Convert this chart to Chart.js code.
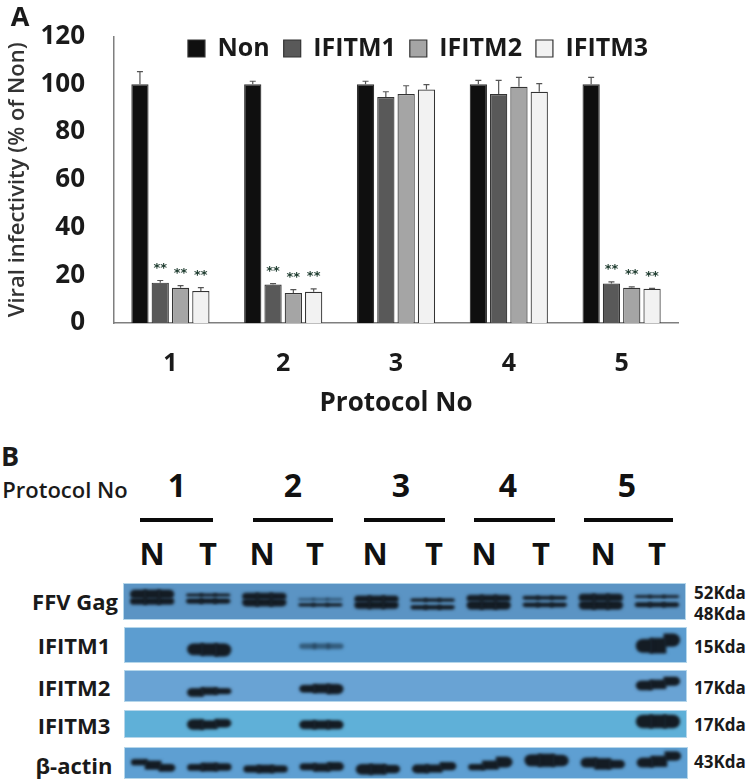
<!DOCTYPE html>
<html>
<head>
<meta charset="utf-8">
<script src="https://cdn.jsdelivr.net/npm/chart.js@4"></script>
<style>
html, body { margin: 0; padding: 0; background: #fff; }
body { position: relative; width: 750px; height: 781px; overflow: hidden; font-family: "Open Sans", sans-serif; color: #1a1a1a; }
canvas { position: absolute; display: block; }
.txt { position: absolute; white-space: nowrap; font-weight: 700; line-height: 1; transform: translate(-50%, -50%); }
.rule { position: absolute; top: 518px; height: 4px; background: #0a0a0a; }
.row { font-size: 22px; }
.kda { font-size: 17px; }
.lane { font-size: 31px; top: 553px; color: #111; }
.num { font-size: 32px; top: 485px; color: #111; }
.strip { border: 1px solid #b5d6ea; box-sizing: border-box; }
</style>
</head>
<body>
<canvas id="infectivity" width="750" height="425" style="left:0;top:0"></canvas>

<div class="txt" style="left:20px;top:15px;font-size:27px">A</div>
<div class="txt" style="left:10px;top:455px;font-size:27px">B</div>
<div class="txt" style="left:65px;top:489px;font-size:22px;font-weight:600">Protocol No</div>

<div class="txt num" style="left:177px">1</div>
<div class="txt num" style="left:293px">2</div>
<div class="txt num" style="left:401px">3</div>
<div class="txt num" style="left:508px">4</div>
<div class="txt num" style="left:627px">5</div>

<div class="rule" style="left:140px;width:73px"></div>
<div class="rule" style="left:253px;width:80px"></div>
<div class="rule" style="left:364px;width:81px"></div>
<div class="rule" style="left:474px;width:81px"></div>
<div class="rule" style="left:584px;width:89px"></div>

<div class="txt lane" style="left:152px">N</div>
<div class="txt lane" style="left:208px">T</div>
<div class="txt lane" style="left:262px">N</div>
<div class="txt lane" style="left:315px">T</div>
<div class="txt lane" style="left:375px">N</div>
<div class="txt lane" style="left:434px">T</div>
<div class="txt lane" style="left:484px">N</div>
<div class="txt lane" style="left:541px">T</div>
<div class="txt lane" style="left:603px">N</div>
<div class="txt lane" style="left:657px">T</div>

<canvas id="blotGag" class="strip" width="563" height="37" style="left:123px;top:583px"></canvas>
<canvas id="blotM1" class="strip" width="563" height="36" style="left:124px;top:627px"></canvas>
<canvas id="blotM2" class="strip" width="563" height="32" style="left:124px;top:670px"></canvas>
<canvas id="blotM3" class="strip" width="563" height="28" style="left:124px;top:710px"></canvas>
<canvas id="blotActin" class="strip" width="564" height="32" style="left:124px;top:747px"></canvas>

<div class="txt row" style="left:75px;top:601px">FFV Gag</div>
<div class="txt row" style="left:74px;top:645px">IFITM1</div>
<div class="txt row" style="left:74px;top:687px">IFITM2</div>
<div class="txt row" style="left:74px;top:725px">IFITM3</div>
<div class="txt row" style="left:74px;top:765px">β-actin</div>

<div class="txt kda" style="left:720px;top:592px">52Kda</div>
<div class="txt kda" style="left:720px;top:613px">48Kda</div>
<div class="txt kda" style="left:720px;top:646px">15Kda</div>
<div class="txt kda" style="left:720px;top:687px">17Kda</div>
<div class="txt kda" style="left:720px;top:724px">17Kda</div>
<div class="txt kda" style="left:720px;top:761px">43Kda</div>

<script>
// ---------------- DATA: panel A ----------------
const protocols = ["1", "2", "3", "4", "5"];
const yTicks = [0, 20, 40, 60, 80, 100, 120];

const nonValues = [100, 100, 100, 100, 100];
const ifitm1Values = [16.9, 16.1, 94.7, 95.9, 16.5];
const ifitm2Values = [14.8, 12.6, 95.9, 99.0, 14.8];
const ifitm3Values = [13.4, 13.1, 97.8, 96.9, 14.3];

// top of each error bar
const nonUpper = [105.3, 101.3, 101.3, 101.7, 102.9];
const ifitm1Upper = [17.8, 16.5, 96.9, 101.7, 17.2];
const ifitm2Upper = [15.7, 14.0, 99.4, 102.9, 15.1];
const ifitm3Upper = [14.8, 14.3, 99.9, 100.3, 14.5];

const noMarks = ["", "", "", "", ""];
const signifMarks = ["**", "**", "", "", "**"];

// ---------------- DATA: panel B ----------------
const lanes = ["N1", "T1", "N2", "T2", "N3", "T3", "N4", "T4", "N5", "T5"];

// band extent per lane as a fraction of the strip height, read at the left,
// middle and right of the band so the slanted ones keep their shape
const gagUpper = [[.58, .84], [.64, .73], [.55, .75], null, [.48, .67], [.49, .59], [.50, .69], [.55, .66], [.50, .72], [.60, .68]];
const gagLower = [[.41, .61], [.44, .59], [.36, .58], [.36, .45], [.29, .51], [.27, .40], [.27, .52], [.34, .47], [.27, .52], [.34, .48]];
const gagFaint = [null, null, null, [.52, .60], null, null, null, null, null, null];

const m1Left = [null, [.20, .55], null, null, null, null, null, null, null, [.27, .68]];
const m1Mid = [null, [.18, .55], null, null, null, null, null, null, null, [.25, .71]];
const m1Right = [null, [.16, .55], null, null, null, null, null, null, null, [.45, .84]];
const m1Faint = [null, null, null, [.38, .55], null, null, null, null, null, null];

const m2Left = [null, [.14, .43], null, [.28, .54], null, null, null, null, null, [.36, .68]];
const m2Mid = [null, [.20, .46], null, [.26, .57], null, null, null, null, null, [.40, .71]];
const m2Right = [null, [.23, .43], null, [.23, .57], null, null, null, null, null, [.51, .81]];

const m3Left = [null, [.28, .69], null, [.30, .64], null, null, null, null, null, [.34, .86]];
const m3Mid = [null, [.30, .64], null, [.30, .64], null, null, null, null, null, [.34, .86]];
const m3Right = [null, [.37, .70], null, [.30, .64], null, null, null, null, null, [.34, .86]];

const actinLeft = [[.42, .63], [.24, .47], [.18, .42], [.26, .49], [.11, .47], [.16, .45], [.26, .47], [.39, .79], [.35, .68], [.35, .68]];
const actinMid = [[.28, .58], [.22, .51], [.16, .44], [.21, .49], [.11, .47], [.18, .45], [.28, .58], [.37, .81], [.28, .66], [.37, .74]];
const actinRight = [[.21, .47], [.24, .49], [.18, .42], [.24, .53], [.16, .44], [.26, .53], [.35, .71], [.39, .77], [.32, .60], [.58, .89]];

// ---------------- PANEL A ----------------
const ink = "#1a1a1a";
const grey = "#7f7f7f";
const uppers = [nonUpper, ifitm1Upper, ifitm2Upper, ifitm3Upper];
const marks = [noMarks, signifMarks, signifMarks, signifMarks];

const errorBars = {
    id: "errorBars",
    afterDatasetsDraw(chart) {
        const ctx = chart.ctx;
        const y = chart.scales.y;
        chart.data.datasets.forEach((ds, i) => {
            chart.getDatasetMeta(i).data.forEach((bar, j) => {
                const top = y.getPixelForValue(uppers[i][j]);
                ctx.strokeStyle = "#555";
                ctx.lineWidth = 1.2;
                ctx.beginPath();
                ctx.moveTo(bar.x, bar.y);
                ctx.lineTo(bar.x, top);
                ctx.moveTo(bar.x - 3, top);
                ctx.lineTo(bar.x + 3, top);
                ctx.stroke();
                if (marks[i][j]) {
                    ctx.fillStyle = "#1d3b2e";
                    ctx.font = "700 13px 'DejaVu Sans'";
                    ctx.textAlign = "center";
                    ctx.textBaseline = "middle";
                    ctx.fillText(marks[i][j], bar.x, top - 12);
                }
            });
        });
    }
};

// the legend overlays the plot: it takes no layout height and sits off-centre
const overlayLegend = {
    id: "overlayLegend",
    beforeLayout(chart) {
        const legend = chart.legend;
        if (legend.overlaid) return;
        const fit = legend.fit;
        legend.fit = function () {
            fit.call(this);
            this.legendHeight = this.height;
            this.height = 0;
        };
        legend.overlaid = true;
    },
    afterLayout(chart) {
        const legend = chart.legend;
        legend.left += 79;
        legend.right += 79;
        legend.top = 22;
        legend.bottom = 22 + legend.legendHeight;
    }
};

function barSet(label, data, color) {
    return { label, data, backgroundColor: color, borderColor: "#333", borderWidth: 1.2 };
}

new Chart(document.getElementById("infectivity"), {
    type: "bar",
    data: {
        labels: protocols,
        datasets: [
            barSet("Non", nonValues, "#0f0f0f"),
            barSet("IFITM1", ifitm1Values, "#595959"),
            barSet("IFITM2", ifitm2Values, "#a5a5a5"),
            barSet("IFITM3", ifitm3Values, "#f2f2f2")
        ]
    },
    options: {
        responsive: false,
        animation: false,
        datasets: { bar: { categoryPercentage: 0.72, barPercentage: 0.85 } },
        layout: { padding: { left: 0, right: 72, top: 22, bottom: 0 } },
        plugins: {
            tooltip: { enabled: false },
            legend: {
                position: "top",
                labels: {
                    boxWidth: 17,
                    boxHeight: 17,
                    padding: 14,
                    color: ink,
                    font: { family: "Open Sans", size: 25, weight: "700" }
                }
            }
        },
        scales: {
            x: {
                grid: { display: false },
                border: { color: grey, width: 1.5 },
                ticks: {
                    padding: 18,
                    color: ink,
                    font: { family: "Open Sans", size: 25, weight: "700" }
                },
                title: {
                    display: true,
                    text: "Protocol No",
                    color: ink,
                    padding: { top: 10, bottom: 6 },
                    font: { family: "Open Sans", size: 26, weight: "700" }
                },
                afterFit: s => { s.height = 102; }
            },
            y: {
                min: 0,
                max: 120,
                afterBuildTicks: s => { s.ticks = yTicks.map(v => ({ value: v })); },
                afterFit: s => { s.width = 114; },
                grid: { display: false },
                border: { color: grey, width: 1.5 },
                ticks: {
                    padding: 21,
                    color: ink,
                    font: { family: "Open Sans", size: 26, weight: "700" }
                },
                title: {
                    display: true,
                    text: "Viral infectivity (% of Non)",
                    color: "#333",
                    padding: { top: 5, bottom: 0 },
                    font: { family: "Open Sans", size: 22, weight: "600" }
                }
            }
        }
    },
    plugins: [errorBars, overlayLegend]
});

// ---------------- PANEL B ----------------
const softBands = {
    id: "softBands",
    beforeDatasetsDraw(chart) {
        chart.ctx.save();
        chart.ctx.filter = "blur(1.4px)";
    },
    afterDatasetsDraw(chart) {
        chart.ctx.restore();
    }
};

const sliceSides = ["L", "M", "R"];
const sliceRadius = {
    L: { topLeft: 7, bottomLeft: 7, topRight: 0, bottomRight: 0 },
    M: 0,
    R: { topLeft: 0, bottomLeft: 0, topRight: 7, bottomRight: 7 }
};

// every band row is three side-by-side slices, left, middle and right
function sliceSet(slices, color) {
    return slices.map((data, k) => ({
        data,
        stack: sliceSides[k],
        backgroundColor: color,
        borderRadius: sliceRadius[sliceSides[k]],
        borderSkipped: false
    }));
}

function blotStrip(id, tint, dark, faint) {
    let datasets = [];
    dark.forEach(s => { datasets = datasets.concat(sliceSet(s, "#141c24")); });
    (faint || []).forEach(s => { datasets = datasets.concat(sliceSet(s, "rgba(25,50,70,0.6)")); });
    new Chart(document.getElementById(id), {
        type: "bar",
        data: { labels: lanes, datasets },
        options: {
            responsive: false,
            animation: false,
            categoryPercentage: 0.74,
            barPercentage: 1.2,
            layout: { padding: 0 },
            plugins: { legend: { display: false }, tooltip: { enabled: false } },
            scales: {
                x: { display: false },
                y: { display: false, stacked: false, min: 0, max: 1 }
            }
        },
        plugins: [softBands, {
            id: "tint",
            beforeDraw(chart) {
                chart.ctx.fillStyle = tint;
                chart.ctx.fillRect(0, 0, chart.width, chart.height);
            }
        }]
    });
}

blotStrip("blotGag", "#5b94c4",
    [[gagUpper, gagUpper, gagUpper], [gagLower, gagLower, gagLower]],
    [[gagFaint, gagFaint, gagFaint]]);
blotStrip("blotM1", "#5c9dd0", [[m1Left, m1Mid, m1Right]], [[m1Faint, m1Faint, m1Faint]]);
blotStrip("blotM2", "#69a3d4", [[m2Left, m2Mid, m2Right]]);
blotStrip("blotM3", "#5fb0d8", [[m3Left, m3Mid, m3Right]]);
blotStrip("blotActin", "#5e9fd2", [[actinLeft, actinMid, actinRight]]);
</script>
</body>
</html>
